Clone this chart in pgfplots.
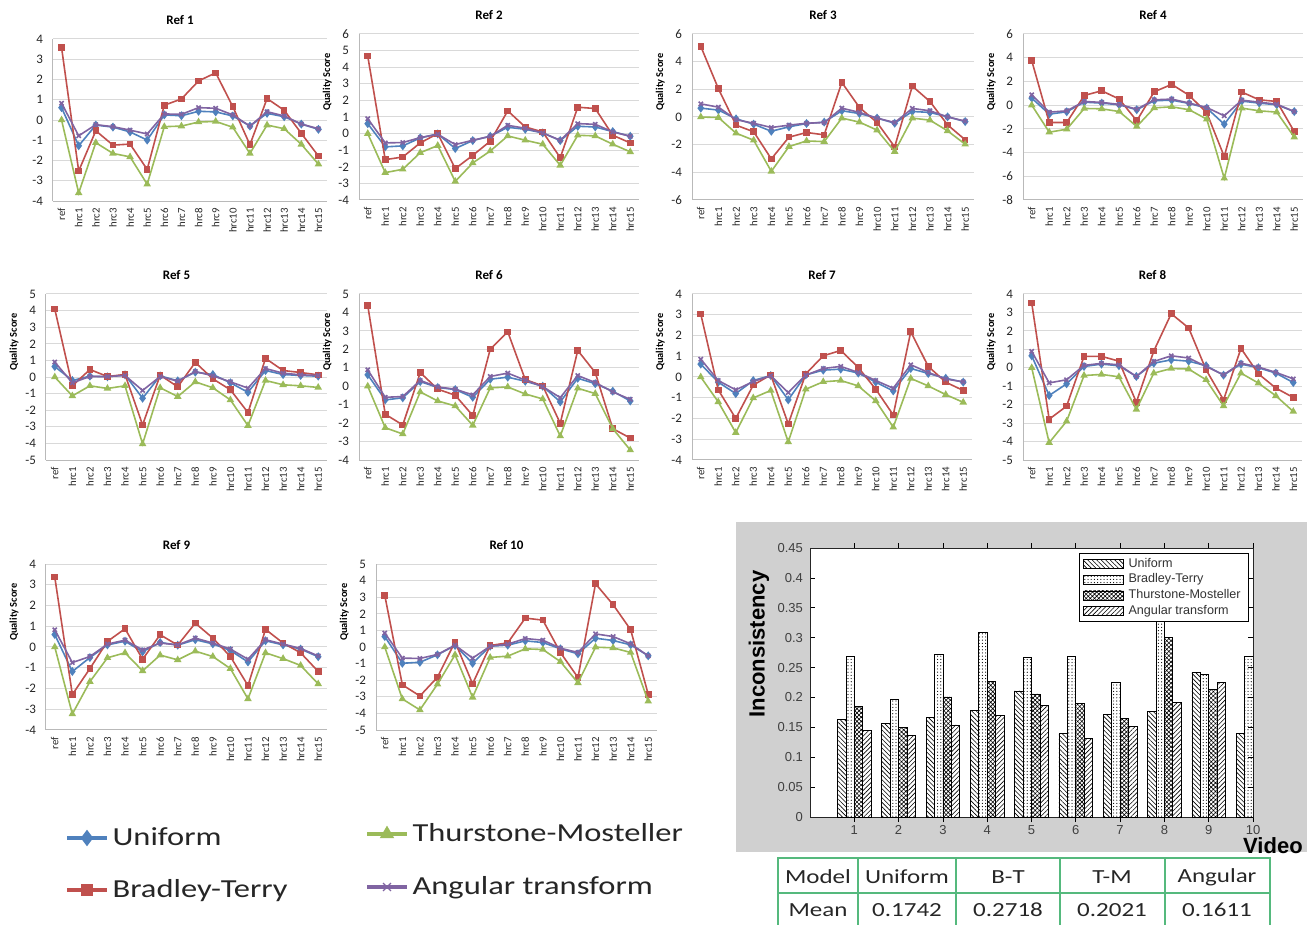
\documentclass[border=0pt]{standalone}
\usepackage{fontspec}
\setmainfont{Carlito}
\newfontfamily\legf{Carlito}[FakeStretch=1.25]
\newfontfamily\arialf{Liberation Sans}
\usepackage{pgfplots}
\pgfplotsset{compat=1.18}
\usepackage{pgfplotstable}
\usetikzlibrary{patterns.meta}

\definecolor{cU}{RGB}{79,129,189}
\definecolor{cB}{RGB}{192,80,77}
\definecolor{cT}{RGB}{155,187,89}
\definecolor{cA}{RGB}{128,100,162}
\definecolor{gridgray}{RGB}{217,217,217}
\definecolor{axgray}{RGB}{185,185,185}
\definecolor{tabgreen}{RGB}{85,185,125}
\definecolor{bgray}{RGB}{208,208,208}

\pgfplotsset{
 every axis/.append style={/pgf/number format/assume math mode=true},
 refplot/.style={
  scale only axis, anchor=north west,
  xmin=-0.5, xmax=15.5, xtick={0,...,15},
  xticklabels={ref,hrc1,hrc2,hrc3,hrc4,hrc5,hrc6,hrc7,hrc8,hrc9,hrc10,hrc11,hrc12,hrc13,hrc14,hrc15},
  x tick label style={rotate=90, anchor=east, font=\fontsize{5.4}{6}\selectfont, text=black!85},
  y tick label style={font=\fontsize{6.5}{7}\selectfont, text=black!85, xshift=-1.5pt},
  major tick length=0pt,
  ymajorgrids, grid style={draw=gridgray, line width=0.5pt},
  axis x line*=bottom, axis y line*=left,
  axis line style={draw=axgray, line width=0.5pt},
  title style={font=\bfseries\fontsize{6.5}{7}\selectfont, anchor=center, at={(0.5,1)}, yshift=3.5pt, xshift=-5pt},
  ylabel style={font=\bfseries\fontsize{5.2}{6}\selectfont, at={(ticklabel cs:0.71,-3.5pt)}},
  clip mode=individual,
 },
 ser1/.style={color=cU, mark=diamond*, mark size=1.6pt, line width=0.8pt},
 ser2/.style={color=cB, mark=square*, mark size=1.25pt, line width=0.8pt},
 ser3/.style={color=cT, mark=triangle*, mark size=1.4pt, line width=0.8pt},
 ser4/.style={color=cA, mark=x, mark size=1.5pt, line width=0.8pt},
 legax/.style={hide axis, scale only axis, width=1pt, height=1pt,
  xmin=0, xmax=1, ymin=0, ymax=1, anchor=south west,
  legend style={at={(0,0)}, anchor=west, draw=none, fill=none, inner sep=0pt,
   font=\legf\fontsize{13}{15}\selectfont, text=black!85,
   nodes={inner xsep=2pt, inner ysep=0pt}},
  legend image code/.code={\draw[mark repeat=2,mark phase=2,##1] plot coordinates {(0pt,0pt) (10pt,0pt) (20pt,0pt)};}},
 barleg/.style={legend image code/.code={\draw[##1] (0pt,-2.3pt) rectangle (20pt,2.3pt);}},
}

\newcommand{\four}[1]{%
 \addplot[ser1] table[x=x,y=U]{#1};
 \addplot[ser2] table[x=x,y=B]{#1};
 \addplot[ser3] table[x=x,y=T]{#1};
 \addplot[ser4] table[x=x,y=A]{#1};
}

\pgfplotstableread{
x U B T A
0 0.61 3.58 0 0.83
1 -1.27 -2.52 -3.60 -0.78
2 -0.25 -0.53 -1.12 -0.23
3 -0.35 -1.24 -1.65 -0.33
4 -0.59 -1.19 -1.82 -0.50
5 -0.99 -2.44 -3.17 -0.69
6 0.25 0.73 -0.33 0.30
7 0.21 1.04 -0.30 0.28
8 0.43 1.93 -0.10 0.61
9 0.40 2.33 -0.07 0.58
10 0.20 0.66 -0.36 0.25
11 -0.30 -1.22 -1.65 -0.30
12 0.33 1.06 -0.25 0.41
13 0.16 0.48 -0.43 0.20
14 -0.20 -0.66 -1.20 -0.20
15 -0.46 -1.78 -2.18 -0.43
}\rA
\pgfplotstableread{
x U B T A
0 0.60 4.67 0 0.90
1 -0.80 -1.57 -2.35 -0.56
2 -0.74 -1.41 -2.15 -0.54
3 -0.26 -0.56 -1.15 -0.24
4 -0.02 0.00 -0.72 -0.04
5 -0.90 -2.11 -2.88 -0.66
6 -0.42 -1.31 -1.77 -0.40
7 -0.16 -0.46 -1.05 -0.16
8 0.38 1.37 -0.14 0.50
9 0.26 0.40 -0.40 0.32
10 0.04 0.10 -0.64 0.04
11 -0.42 -1.45 -1.91 -0.40
12 0.44 1.59 -0.10 0.60
13 0.40 1.51 -0.14 0.56
14 0.12 -0.10 -0.64 0.10
15 -0.16 -0.56 -1.10 -0.16
}\rB
\pgfplotstableread{
x U B T A
0 0.64 5.10 0 0.95
1 0.50 2.04 -0.04 0.71
2 -0.13 -0.59 -1.17 -0.20
3 -0.52 -1.07 -1.68 -0.45
4 -1.03 -3.03 -3.93 -0.76
5 -0.71 -1.46 -2.14 -0.59
6 -0.47 -1.12 -1.73 -0.45
7 -0.37 -1.29 -1.78 -0.40
8 0.45 2.50 -0.08 0.64
9 0.25 0.69 -0.37 0.33
10 -0.08 -0.40 -0.95 -0.08
11 -0.45 -2.16 -2.50 -0.40
12 0.40 2.23 -0.08 0.62
13 0.33 1.12 -0.23 0.45
14 0.01 -0.57 -1.00 0.01
15 -0.33 -1.65 -1.97 -0.30
}\rC
\pgfplotstableread{
x U B T A
0 0.59 3.75 0 0.87
1 -0.76 -1.46 -2.28 -0.59
2 -0.56 -1.46 -2.03 -0.48
3 0.25 0.82 -0.28 0.31
4 0.17 1.21 -0.31 0.23
5 0.03 0.51 -0.54 0.06
6 -0.39 -1.32 -1.80 -0.34
7 0.37 1.13 -0.23 0.45
8 0.42 1.75 -0.14 0.51
9 0.14 0.82 -0.39 0.17
10 -0.25 -0.65 -1.18 -0.20
11 -1.61 -4.34 -6.17 -0.90
12 0.34 1.10 -0.25 0.42
13 0.17 0.45 -0.48 0.25
14 0.03 0.31 -0.59 0.08
15 -0.54 -2.23 -2.70 -0.54
}\rD
\pgfplotstableread{
x U B T A
0 0.63 4.09 0 0.90
1 -0.21 -0.53 -1.14 -0.35
2 0.05 0.45 -0.53 0.03
3 0.01 0.03 -0.69 0.03
4 0.13 0.15 -0.53 0.09
5 -1.28 -2.89 -4.03 -0.81
6 0.07 0.11 -0.65 0.03
7 -0.23 -0.59 -1.18 -0.25
8 0.29 0.88 -0.29 0.33
9 0.15 -0.11 -0.65 0.07
10 -0.35 -0.77 -1.38 -0.29
11 -0.92 -2.14 -2.93 -0.67
12 0.39 1.12 -0.21 0.51
13 0.15 0.39 -0.47 0.23
14 0.09 0.27 -0.53 0.13
15 0.05 0.13 -0.63 0.09
}\rE
\pgfplotstableread{
x U B T A
0 0.62 4.38 0 0.89
1 -0.74 -1.52 -2.25 -0.60
2 -0.63 -2.10 -2.59 -0.56
3 0.25 0.74 -0.31 0.31
4 -0.07 -0.16 -0.80 -0.04
5 -0.18 -0.49 -1.07 -0.16
6 -0.60 -1.59 -2.12 -0.47
7 0.38 2.01 -0.09 0.53
8 0.49 2.95 -0.04 0.71
9 0.27 0.36 -0.42 0.33
10 0.00 0.02 -0.69 -0.02
11 -0.85 -2.01 -2.70 -0.62
12 0.43 1.94 -0.11 0.58
13 0.14 0.74 -0.40 0.20
14 -0.27 -2.30 -2.30 -0.31
15 -0.80 -2.81 -3.46 -0.71
}\rF
\pgfplotstableread{
x U B T A
0 0.62 3.04 0 0.86
1 -0.25 -0.62 -1.20 -0.17
2 -0.80 -2.00 -2.68 -0.62
3 -0.17 -0.39 -1.01 -0.22
4 0.07 0.10 -0.65 0.06
5 -1.10 -2.26 -3.13 -0.75
6 0.10 0.15 -0.59 0.09
7 0.33 1.02 -0.23 0.41
8 0.38 1.28 -0.17 0.51
9 0.19 0.46 -0.43 0.22
10 -0.25 -0.59 -1.15 -0.17
11 -0.67 -1.83 -2.42 -0.54
12 0.41 2.18 -0.07 0.59
13 0.17 0.51 -0.43 0.22
14 -0.06 -0.25 -0.85 -0.10
15 -0.25 -0.65 -1.22 -0.23
}\rG
\pgfplotstableread{
x U B T A
0 0.65 3.51 0 0.89
1 -1.50 -2.79 -4.06 -0.82
2 -0.87 -2.08 -2.90 -0.65
3 0.07 0.62 -0.42 0.13
4 0.20 0.62 -0.36 0.24
5 0.11 0.36 -0.49 0.16
6 -0.47 -1.87 -2.26 -0.47
7 0.25 0.91 -0.29 0.34
8 0.43 2.93 -0.04 0.65
9 0.36 2.16 -0.07 0.53
10 0.11 -0.11 -0.65 0.07
11 -0.40 -1.74 -2.07 -0.38
12 0.20 1.05 -0.29 0.25
13 0.00 -0.33 -0.83 0.04
14 -0.29 -1.10 -1.52 -0.25
15 -0.80 -1.61 -2.37 -0.60
}\rH
\pgfplotstableread{
x U B T A
0 0.60 3.37 0 0.83
1 -1.18 -2.29 -3.23 -0.75
2 -0.51 -1.04 -1.67 -0.46
3 0.10 0.27 -0.52 0.14
4 0.28 0.88 -0.28 0.33
5 -0.23 -0.59 -1.15 -0.14
6 0.22 0.59 -0.39 0.19
7 0.09 0.09 -0.62 0.10
8 0.35 1.15 -0.20 0.43
9 0.15 0.43 -0.46 0.19
10 -0.17 -0.46 -1.04 -0.10
11 -0.72 -1.86 -2.50 -0.59
12 0.30 0.85 -0.28 0.35
13 0.10 0.19 -0.56 0.14
14 -0.10 -0.28 -0.89 -0.07
15 -0.47 -1.18 -1.78 -0.43
}\rI
\pgfplotstableread{
x U B T A
0 0.63 3.11 0 0.84
1 -0.98 -2.28 -3.13 -0.67
2 -0.92 -2.95 -3.79 -0.69
3 -0.47 -1.82 -2.24 -0.45
4 0.09 0.31 -0.47 0.11
5 -0.98 -2.22 -3.03 -0.67
6 0.05 0.09 -0.63 0.05
7 0.11 0.25 -0.55 0.17
8 0.37 1.74 -0.11 0.51
9 0.27 1.62 -0.15 0.41
10 -0.11 -0.33 -0.88 -0.07
11 -0.41 -1.84 -2.16 -0.33
12 0.53 3.81 -0.01 0.79
13 0.39 2.55 -0.05 0.63
14 0.13 1.04 -0.33 0.19
15 -0.53 -2.85 -3.27 -0.53
}\rJ
\pgfplotstableread{
v U B T A
1 0.163 0.268 0.185 0.145
2 0.157 0.197 0.150 0.137
3 0.167 0.272 0.201 0.154
4 0.178 0.309 0.227 0.170
5 0.211 0.267 0.206 0.187
6 0.140 0.269 0.190 0.132
7 0.171 0.225 0.165 0.151
8 0.177 0.404 0.300 0.192
9 0.242 0.238 0.213 0.225
10 0.140 0.269 0.184 0.118
}\incons

\begin{document}
\begin{tikzpicture}[x=0.5pt,y=-0.5pt]
\useasboundingbox (0,0) rectangle (1307,925);
\fill[bgray] (736,522) rectangle (1307,852);

% Row 1
\begin{axis}[refplot, at={(26.5pt,-19.5pt)}, width=137pt, height=81pt,
  ymin=-4, ymax=4, ytick={-4,...,4}, title={Ref 1}]
\four{\rA}
\end{axis}
\begin{axis}[refplot, at={(179.5pt,-17pt)}, width=140pt, height=83pt,
  ymin=-4, ymax=6, ytick={-4,...,6}, title={Ref 2}, ylabel={Quality Score}]
\four{\rB}
\end{axis}
\begin{axis}[refplot, at={(346pt,-17pt)}, width=141pt, height=83pt,
  ymin=-6, ymax=6, ytick={-6,-4,...,6}, title={Ref 3}, ylabel={Quality Score}]
\four{\rC}
\end{axis}
\begin{axis}[refplot, at={(511.5pt,-17pt)}, width=140pt, height=83pt,
  ymin=-8, ymax=6, ytick={-8,-6,...,6}, title={Ref 4}, ylabel={Quality Score}]
\four{\rD}
\end{axis}

% Row 2
\begin{axis}[refplot, at={(23pt,-147pt)}, width=140.5pt, height=83pt,
  ymin=-5, ymax=5, ytick={-5,...,5}, title={Ref 5}, ylabel={Quality Score}]
\four{\rE}
\end{axis}
\begin{axis}[refplot, at={(179.5pt,-147pt)}, width=140pt, height=83pt,
  ymin=-4, ymax=5, ytick={-4,...,5}, title={Ref 6}, ylabel={Quality Score}]
\four{\rF}
\end{axis}
\begin{axis}[refplot, at={(346pt,-147pt)}, width=140pt, height=83pt,
  ymin=-4, ymax=4, ytick={-4,...,4}, title={Ref 7}, ylabel={Quality Score}]
\four{\rG}
\end{axis}
\begin{axis}[refplot, at={(511.5pt,-147pt)}, width=139.5pt, height=83pt,
  ymin=-5, ymax=4, ytick={-5,...,4}, title={Ref 8}, ylabel={Quality Score}]
\four{\rH}
\end{axis}

% Row 3
\begin{axis}[refplot, at={(23pt,-282pt)}, width=140.5pt, height=83pt,
  ymin=-4, ymax=4, ytick={-4,...,4}, title={Ref 9}, ylabel={Quality Score}]
\four{\rI}
\end{axis}
\begin{axis}[refplot, at={(188pt,-282pt)}, width=140.5pt, height=83pt,
  ymin=-5, ymax=5, ytick={-5,...,5}, title={Ref 10}, ylabel={Quality Score}]
\four{\rJ}
\end{axis}

% Legend for line charts
\begin{axis}[legax, at={(32.5pt,-419pt)}]
\addlegendimage{ser1, line width=1.6pt, mark size=2.8pt}
\addlegendentry{Uniform}
\end{axis}
\begin{axis}[legax, at={(32.5pt,-445pt)}]
\addlegendimage{ser2, line width=1.6pt, mark size=2.3pt}
\addlegendentry{Bradley-Terry}
\end{axis}
\begin{axis}[legax, at={(182.5pt,-417pt)}]
\addlegendimage{ser3, line width=1.6pt, mark size=2.6pt}
\addlegendentry{Thurstone-Mosteller}
\end{axis}
\begin{axis}[legax, at={(182.5pt,-443.5pt)}]
\addlegendimage{ser4, line width=1.6pt, mark size=2.8pt, mark options={line width=0.6pt}}
\addlegendentry{Angular transform}
\end{axis}

% Bar chart
\begin{axis}[at={(405pt,-408.5pt)}, anchor=south west, scale only axis,
  width=221.5pt, height=134.5pt,
  xmin=0, xmax=10, ymin=0, ymax=0.45,
  xtick={1,...,10}, xticklabels={1,2,3,4,5,6,7,8,9,10},
  ytick={0,0.05,0.1,0.15,0.2,0.25,0.3,0.35,0.4,0.45},
  yticklabels={0,0.05,0.1,0.15,0.2,0.25,0.3,0.35,0.4,0.45},
  tick label style={font=\arialf\fontsize{6.5}{7}\selectfont, text=black!75},
  x tick label style={yshift=2pt},
  tick align=inside, major tick length=2.5pt, tick style={black, line width=0.4pt},
  axis line style={black!85, line width=0.5pt},
  axis background/.style={fill=white},
  ybar, bar width=0.19,
  ylabel={Inconsistency}, xlabel={Video},
  label style={font=\arialf\bfseries\fontsize{11}{12}\selectfont},
  ylabel style={at={(axis description cs:-0.115,0.643)}, anchor=center},
  xlabel style={at={(axis description cs:1.045,0)}, anchor=center, yshift=-14.5pt},
  legend style={at={(0.991,0.981)}, anchor=north east, draw=black, fill=white,
   font=\arialf\fontsize{6.3}{7}\selectfont, text=black!80, inner sep=1.5pt,
   nodes={inner xsep=2.5pt, inner ysep=0.7pt}, row sep=0.4pt},
  legend cell align=left,
]
\addplot[draw=black, line width=0.35pt, bar shift=-0.285,
  pattern={Lines[angle=-45,distance=1.6pt,line width=0.3pt]}, barleg] table[x=v,y=U]{\incons};
\addplot[draw=black, line width=0.35pt, bar shift=-0.095,
  pattern={Dots[distance=1.6pt,radius=0.3pt]}, barleg] table[x=v,y=B]{\incons};
\addplot[draw=black, line width=0.35pt, bar shift=0.095,
  pattern={Hatch[angle=45,distance=1.5pt,line width=0.3pt]}, barleg] table[x=v,y=T]{\incons};
\addplot[draw=black, line width=0.35pt, bar shift=0.285,
  pattern={Lines[angle=45,distance=1.6pt,line width=0.3pt]}, barleg] table[x=v,y=A]{\incons};
\legend{Uniform,Bradley-Terry,Thurstone-Mosteller,Angular transform}
\end{axis}

% Table
\draw[tabgreen, line width=1pt] (778,858) rectangle (1270,928);
\draw[tabgreen, line width=1pt] (778,893) -- (1270,893);
\foreach \xx in {858,956,1060,1165} \draw[tabgreen, line width=1pt] (\xx,858) -- (\xx,928);
\begin{scope}[every node/.style={font=\legf\fontsize{10}{12}\selectfont, text=black!85, anchor=center}]
\node at (818,877) {Model};
\node at (907,877) {Uniform};
\node at (1008,877) {B-T};
\node at (1112,877) {T-M};
\node at (1217,877) {Angular};
\node at (818,910) {Mean};
\node at (907,910) {0.1742};
\node at (1008,910) {0.2718};
\node at (1112,910) {0.2021};
\node at (1217,910) {0.1611};
\end{scope}
\end{tikzpicture}
\end{document}
